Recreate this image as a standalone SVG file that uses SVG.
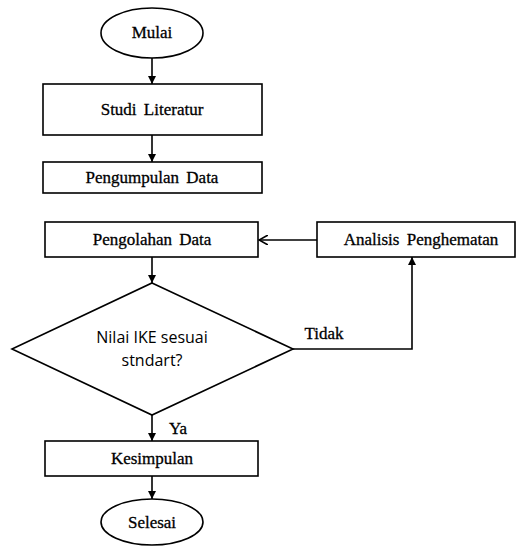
<svg xmlns="http://www.w3.org/2000/svg" width="520" height="549" viewBox="0 0 520 549">
<defs>
<marker id="fill" viewBox="0 0 10 10" refX="10" refY="5" markerWidth="8" markerHeight="8" markerUnits="userSpaceOnUse" orient="auto"><path d="M0,0 L10,5 L0,10 z" fill="#000"/></marker>
<marker id="open" viewBox="0 0 10 10" refX="9" refY="5" markerWidth="10" markerHeight="10" markerUnits="userSpaceOnUse" orient="auto"><path d="M0,0 L9,5 L0,10" fill="none" stroke="#000" stroke-width="1.6"/></marker>
</defs>
<style>
.s{fill:#fff;stroke:#000;stroke-width:1.6}
.t{font-family:"Liberation Serif",serif;font-size:17px;fill:#000;text-anchor:middle;stroke:#000;stroke-width:0.3;word-spacing:3px}
.d{font-family:"Open Sans","Liberation Sans",sans-serif;font-size:16px;fill:#000;text-anchor:middle}
.c{fill:none;stroke:#000;stroke-width:1.6}
</style>
<rect width="520" height="549" fill="#fff"/>
<g id="connectors">
<line class="c" x1="152" y1="57" x2="152" y2="84" marker-end="url(#fill)"/>
<line class="c" x1="152" y1="135" x2="152" y2="162" marker-end="url(#fill)"/>
<line class="c" x1="152" y1="257" x2="152" y2="283" marker-end="url(#fill)"/>
<line class="c" x1="317" y1="240" x2="259" y2="240" marker-end="url(#open)"/>
<polyline class="c" points="293,349 412,349 412,257" marker-end="url(#fill)"/>
<line class="c" x1="152" y1="415" x2="152" y2="441" marker-end="url(#fill)"/>
<line class="c" x1="152" y1="476" x2="152" y2="499" marker-end="url(#fill)"/>
<text class="t" x="324" y="339">Tidak</text>
<text class="t" x="178" y="434">Ya</text>
</g>
<g id="mulai"><ellipse class="s" cx="152" cy="33" rx="51" ry="25"/><text class="t" x="152" y="38">Mulai</text></g>
<g id="studi"><rect class="s" x="43" y="84" width="219" height="51"/><text class="t" x="152" y="115">Studi Literatur</text></g>
<g id="pengumpulan"><rect class="s" x="43" y="162" width="219" height="31"/><text class="t" x="152" y="183">Pengumpulan Data</text></g>
<g id="pengolahan"><rect class="s" x="45" y="222" width="213" height="35"/><text class="t" x="152" y="245">Pengolahan Data</text></g>
<g id="analisis"><rect class="s" x="317" y="222" width="198" height="35"/><text class="t" x="421" y="245">Analisis Penghematan</text></g>
<g id="keputusan"><polygon class="s" points="152,283 293,349 152,415 12,349"/><text class="d" x="152" y="343">Nilai IKE sesuai</text><text class="d" x="152" y="366">stndart?</text></g>
<g id="kesimpulan"><rect class="s" x="45" y="441" width="213" height="35"/><text class="t" x="152" y="464">Kesimpulan</text></g>
<g id="selesai"><ellipse class="s" cx="152" cy="522" rx="51" ry="23"/><text class="t" x="152" y="528">Selesai</text></g>
</svg>
